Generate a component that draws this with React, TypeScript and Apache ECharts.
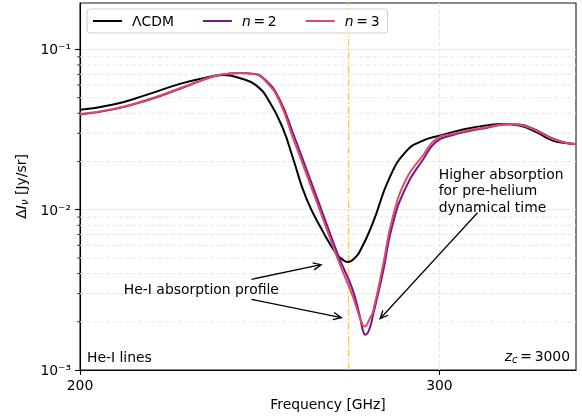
import React, { useEffect, useRef } from 'react';
import * as echarts from 'echarts';

const FONT = "'DejaVu Sans', Verdana, sans-serif";
const FS = 13.9;

const X_MIN = 200;
const X_MAX = 338;
const Y_MIN = 0.001;
const Y_MAX = 0.195;

const seriesNames = ['ΛCDM', 'n = 2', 'n = 3'];
const seriesColors = ['#000000', '#6a1c87', '#e0496b'];

const freqLCDM = [200, 209.3, 218.5, 227.8, 234, 239.8, 244.4, 249.1, 252.8, 256.5, 259.3, 263, 267.6, 271.3, 273, 274.5, 276, 277.8, 281.5, 286.1, 290.8, 295.4, 300, 303.7, 308.3, 312.9, 317.6, 322.2, 326.9, 331.5, 335.2, 338];
const valLCDM = [0.042, 0.0453, 0.0521, 0.061, 0.066, 0.0693, 0.0664, 0.0595, 0.0469, 0.032, 0.0208, 0.01172, 0.0073, 0.00532, 0.0049, 0.00472, 0.0049, 0.00547, 0.0083, 0.0158, 0.0232, 0.027, 0.029, 0.0305, 0.0322, 0.0335, 0.0343, 0.0335, 0.0305, 0.027, 0.0261, 0.0257];

const freqN2 = [200, 209.3, 218.5, 227.8, 237, 241, 244.4, 248.1, 251.9, 255.6, 259.3, 263, 267.6, 272.2, 275.8, 277.8, 278.7, 279.4, 280.4, 281.5, 284.3, 286.9, 290.8, 295.4, 299.1, 303.7, 308.3, 312.9, 319.4, 322.2, 326.9, 331.5, 335.2, 338];
const valN2 = [0.0393, 0.0423, 0.048, 0.0569, 0.0677, 0.0703, 0.0712, 0.0706, 0.0635, 0.0485, 0.0299, 0.01786, 0.0094, 0.00495, 0.0032, 0.00219, 0.00177, 0.00166, 0.00177, 0.00219, 0.00409, 0.00798, 0.014, 0.0205, 0.0266, 0.0292, 0.031, 0.0324, 0.0342, 0.034, 0.0314, 0.0279, 0.0262, 0.0257];

const freqN3 = [200, 209.3, 218.5, 227.8, 237, 241, 244.4, 248.1, 251.9, 255.6, 259.3, 263, 267.6, 272.2, 275.8, 277.3, 278.3, 279.1, 279.7, 280.6, 281.5, 284.3, 286.9, 290.8, 295.4, 299.1, 303.7, 308.3, 312.9, 319.4, 322.2, 326.9, 331.5, 335.2, 338];
const valN3 = [0.0396, 0.0426, 0.0484, 0.0573, 0.0681, 0.0705, 0.0714, 0.0704, 0.0625, 0.0469, 0.0279, 0.01667, 0.00877, 0.00462, 0.00292, 0.00231, 0.002, 0.00187, 0.0019, 0.00209, 0.00231, 0.0045, 0.00879, 0.0156, 0.0218, 0.0277, 0.0298, 0.0314, 0.0327, 0.0343, 0.0339, 0.0312, 0.0277, 0.0261, 0.0257];

const xTicks = [200, 300];
const yTicks = [0.001, 0.01, 0.1];
const yMinorTicks = [0.002, 0.003, 0.004, 0.005, 0.006, 0.007, 0.008, 0.009, 0.02, 0.03, 0.04, 0.05, 0.06, 0.07, 0.08, 0.09];

const heLineFreq = 274.5;

// arrows: [x tail, y tail, x head, y head]
const arrows = [
  [247.7, 0.00368, 267.1, 0.00454],
  [247.7, 0.00276, 272.7, 0.00212],
  [310.6, 0.00957, 283.5, 0.00209],
];
const noteTexts = ['He-I absorption profile', 'Higher absorption\nfor pre-helium\ndynamical time'];
const noteAnchors = [
  [212.2, 0.00322],
  [299.8, 0.01888],
];
const noteVAlign = ['middle', 'top'];

const SUP: Record<string, string> = { '-': '⁻', '0': '⁰', '1': '¹', '2': '²', '3': '³', '4': '⁴' };
const TS = '\u2009';

function zip(xs: number[], ys: number[]) {
  return xs.map((x, i) => [x, ys[i]]);
}

export default function App() {
  const ref = useRef<HTMLDivElement>(null);
  useEffect(() => {
    const chart = echarts.init(ref.current!, null, { renderer: 'svg' });
    const txt = { fontFamily: FONT, fontSize: FS, color: '#000' };
    const lineData = [zip(freqLCDM, valLCDM), zip(freqN2, valN2), zip(freqN3, valN3)];
    const option: any = {
      animation: false,
      grid: { left: 80, right: 6, top: 3, bottom: 46, show: true, borderColor: '#1a1a1a', borderWidth: 1.1, backgroundColor: 'transparent' },
      legend: {
        left: 87,
        top: 9,
        data: seriesNames,
        icon: 'rect',
        itemWidth: 29,
        itemHeight: 2,
        itemGap: 29,
        padding: [5, 8, 5, 6],
        borderColor: '#cccccc',
        borderWidth: 1,
        borderRadius: 3,
        backgroundColor: 'rgba(255,255,255,0.8)',
        formatter: (name: string) => (name === 'ΛCDM' ? name : '{i|n}' + TS + '=' + TS + name.slice(4)),
        textStyle: { ...txt, padding: [0, 0, 0, 5], rich: { i: { fontFamily: FONT, fontSize: FS, fontStyle: 'italic', color: '#000' } } },
      },
      xAxis: {
        type: 'value',
        min: X_MIN,
        max: X_MAX,
        interval: 100,
        name: 'Frequency [GHz]',
        nameLocation: 'middle',
        nameGap: 27,
        nameTextStyle: txt,
        axisLine: { show: true, onZero: false, lineStyle: { color: '#000', width: 1.1 } },
        axisTick: { show: true, length: 4.9, lineStyle: { color: '#000', width: 1.1 }, customValues: xTicks },
        axisLabel: { ...txt, margin: 8, customValues: xTicks },
        splitLine: { show: true, lineStyle: { color: '#e6e6e6', type: [4, 2.5], width: 1 } },
      },
      yAxis: {
        type: 'log',
        logBase: 10,
        min: Y_MIN,
        max: Y_MAX,
        name: '{d|Δ}{i|I}{s|ν} [Jy/sr]',
        nameLocation: 'middle',
        nameGap: 50,
        nameRotate: 90,
        nameTextStyle: {
          ...txt,
          rich: {
            d: { fontFamily: FONT, fontSize: FS, color: '#000' },
            i: { fontFamily: FONT, fontSize: FS, fontStyle: 'italic', color: '#000' },
            s: { fontFamily: FONT, fontSize: 10.5, fontStyle: 'italic', color: '#000', padding: [6, 0, 0, 0] },
          },
        },
        axisLine: { show: true, lineStyle: { color: '#000', width: 1.1 } },
        axisTick: { show: true, length: 4.9, lineStyle: { color: '#000', width: 1.1 }, customValues: yTicks },
        axisLabel: {
          ...txt,
          margin: 9,
          customValues: yTicks,
          formatter: (v: number) => {
            const e = Math.round(Math.log10(v));
            if (Math.abs(Math.log10(v) - e) > 1e-6) return '';
            return '10' + String(e).split('').map((c) => SUP[c] || c).join('');
          },
        },
        splitLine: { show: true, lineStyle: { color: '#ebebeb', width: 1.1 } },
      },
      graphic: [
        { type: 'text', left: 87, top: 350, style: { text: 'He-I lines', fontFamily: FONT, fontSize: FS, fill: '#000' } },
        {
          type: 'text',
          right: 12,
          top: 349,
          style: {
            text: '{i|z}{s|c}' + TS + '=' + TS + '3000',
            fontFamily: FONT,
            fontSize: FS,
            fill: '#000',
            rich: {
              i: { fontFamily: FONT, fontSize: FS, fontStyle: 'italic', fill: '#000' },
              s: { fontFamily: FONT, fontSize: 10, fontStyle: 'italic', fill: '#000', padding: [6, 0, 0, 0] },
            },
          },
        },
      ],
      series: [
        {
          type: 'custom',
          name: 'minor',
          z: 1,
          silent: true,
          data: yMinorTicks.map((v) => [X_MIN, v]),
          renderItem: (params: any, api: any) => {
            const v = api.value(1);
            const p0 = api.coord([X_MIN, v]);
            const p1 = api.coord([X_MAX, v]);
            return {
              type: 'group',
              children: [
                { type: 'line', shape: { x1: p0[0], y1: p0[1], x2: p1[0], y2: p1[1] }, style: { stroke: '#e6e6e6', lineWidth: 1, lineDash: [4, 2.5] } },
                { type: 'line', shape: { x1: p0[0] - 2.8, y1: p0[1], x2: p0[0], y2: p0[1] }, style: { stroke: '#000', lineWidth: 0.8 } },
              ],
            };
          },
        },
        ...seriesNames.map((name, i) => ({
          type: 'line',
          name,
          data: lineData[i],
          showSymbol: false,
          symbol: 'none',
          smooth: 0.5,
          z: 3 + i,
          color: seriesColors[i],
          lineStyle: { color: seriesColors[i], width: 2 },
          markLine:
            i === 0
              ? {
                  silent: true,
                  symbol: ['none', 'none'],
                  label: { show: false },
                  lineStyle: { color: '#ffc06a', width: 1.2, type: [7, 2.5, 1.5, 2.5] },
                  data: [{ xAxis: heLineFreq }],
                  z: 1,
                }
              : undefined,
        })),
        {
          type: 'custom',
          name: 'arrows',
          z: 10,
          silent: true,
          data: arrows,
          renderItem: (params: any, api: any) => {
            const a = api.coord([api.value(0), api.value(1)]);
            const b = api.coord([api.value(2), api.value(3)]);
            const ang = Math.atan2(b[1] - a[1], b[0] - a[0]);
            const L = 8;
            const W = 3.6;
            const bx = b[0] - L * Math.cos(ang);
            const by = b[1] - L * Math.sin(ang);
            const nx = -Math.sin(ang) * W;
            const ny = Math.cos(ang) * W;
            const st = { stroke: '#000', lineWidth: 1.3, fill: 'none' };
            return {
              type: 'group',
              children: [
                { type: 'line', shape: { x1: a[0], y1: a[1], x2: b[0], y2: b[1] }, style: st },
                { type: 'polyline', shape: { points: [[bx + nx, by + ny], [b[0], b[1]], [bx - nx, by - ny]] }, style: st },
              ],
            };
          },
        },
        {
          type: 'custom',
          name: 'notes',
          z: 10,
          silent: true,
          data: noteAnchors,
          renderItem: (params: any, api: any) => {
            const p = api.coord([api.value(0), api.value(1)]);
            const i = params.dataIndex;
            return {
              type: 'text',
              x: p[0],
              y: p[1],
              style: {
                text: noteTexts[i],
                fontFamily: FONT,
                fontSize: FS,
                fill: '#000',
                align: 'left',
                verticalAlign: noteVAlign[i],
                lineHeight: 16.5,
              },
            };
          },
        },
      ],
    };
    chart.setOption(option);
    return () => chart.dispose();
  }, []);
  return <div ref={ref} style={{ position: 'fixed', left: 0, top: 0, width: 582, height: 416 }} />;
}
